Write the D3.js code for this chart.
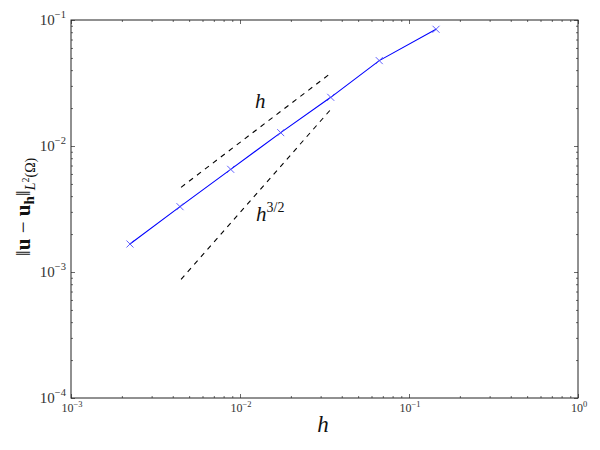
<!DOCTYPE html>
<html>
<head>
<meta charset="utf-8">
<script src="https://cdn.jsdelivr.net/npm/d3@7"></script>
<style>
  body { margin: 0; background: #fff; }
</style>
</head>
<body>
<svg id="chart" width="600" height="450"></svg>
<script>
// mesh sizes and L2 error of the computed solution
const hVals = [0.002233, 0.004416, 0.00881, 0.01742, 0.03443, 0.06668, 0.1445];
const errL2 = [0.001668, 0.00330, 0.00653, 0.01276, 0.02434, 0.0476, 0.0844];

// reference slopes
const refX = [0.00448, 0.03443];
const refLinY = [0.00470, 0.0378];
const refSupY = [0.000875, 0.0195];

// tick labels
const xMajor = [1e-3, 1e-2, 1e-1, 1];
const xMajorExp = ['\u22123', '\u22122', '\u22121', '0'];
const yMajor = [1e-4, 1e-3, 1e-2, 1e-1];
const yMajorExp = ['\u22124', '\u22123', '\u22122', '\u22121'];

const FONT = '"Liberation Serif", "DejaVu Serif", serif';

const svg = d3.select('#chart');
const margin = {top: 20, right: 22, bottom: 52, left: 71};
const width = 600, height = 450;
const innerW = width - margin.left - margin.right;
const innerH = height - margin.top - margin.bottom;

const x = d3.scaleLog().domain([1e-3, 1]).range([0, innerW]);
const y = d3.scaleLog().domain([1e-4, 1e-1]).range([innerH, 0]);

const g = svg.append('g').attr('transform', `translate(${margin.left},${margin.top})`);

// minor tick values (2..9 in every decade)
function minors(lo, hi) {
  const out = [];
  for (let e = lo; e < hi; e++) for (let m = 2; m < 10; m++) out.push(m * Math.pow(10, e));
  return out;
}
const xMinor = minors(-3, 0);
const yMinor = minors(-4, -1);

// ticks pointing inward on all four sides
const sides = [
  [() => d3.axisBottom(x), `translate(0,${innerH})`, xMajor, xMinor],
  [() => d3.axisTop(x), 'translate(0,0)', xMajor, xMinor],
  [() => d3.axisLeft(y), 'translate(0,0)', yMajor, yMinor],
  [() => d3.axisRight(y), `translate(${innerW},0)`, yMajor, yMinor]
];
sides.forEach(([mk, tr, maj, min]) => {
  [[min, 2], [maj, 4]].forEach(([vals, size]) => {
    g.append('g').attr('transform', tr)
      .call(mk().tickValues(vals).tickSizeInner(-size).tickSizeOuter(0).tickFormat(''))
      .call(s => s.select('.domain').remove());
  });
});
g.selectAll('.tick line').attr('stroke', '#444').attr('stroke-width', 0.8);

// frame
g.append('rect')
  .attr('width', innerW).attr('height', innerH)
  .attr('fill', 'none').attr('stroke', '#222').attr('stroke-width', 1);

// tick labels
const xl = g.append('g').selectAll('text').data(xMajor).join('text')
  .attr('x', d => x(d) + 1).attr('y', innerH + 14)
  .attr('text-anchor', 'middle')
  .style('font-family', FONT).style('font-size', '12px').attr('fill', '#333');
xl.append('tspan').text('10');
xl.append('tspan').attr('dy', -5).style('font-size', '8.5px').text((d, i) => xMajorExp[i]);

const yl = g.append('g').selectAll('text').data(yMajor).join('text')
  .attr('x', -5).attr('y', d => y(d) + 5)
  .attr('text-anchor', 'end')
  .style('font-family', FONT).style('font-size', '15px').attr('fill', '#333');
yl.append('tspan').text('10');
yl.append('tspan').attr('dy', -7).style('font-size', '10.5px').text((d, i) => yMajorExp[i]);

// reference lines
const line = d3.line().x(d => x(d[0])).y(d => y(d[1]));
[refLinY, refSupY].forEach(ys => {
  g.append('path')
    .attr('d', line(refX.map((v, i) => [v, ys[i]])))
    .attr('fill', 'none').attr('stroke', '#000').attr('stroke-width', 1.1)
    .attr('stroke-dasharray', '5,5');
});

// error curve
const pts = hVals.map((v, i) => [v, errL2[i]]);
g.append('path')
  .attr('d', line(pts))
  .attr('fill', 'none').attr('stroke', '#0000ff').attr('stroke-width', 1.1);
const s = 3.5;
g.append('g').selectAll('path').data(pts).join('path')
  .attr('d', d => {
    const px = x(d[0]), py = y(d[1]);
    return `M${px - s},${py - s}L${px + s},${py + s}M${px - s},${py + s}L${px + s},${py - s}`;
  })
  .attr('stroke', '#4d4dff').attr('stroke-width', 0.9).attr('fill', 'none');

// slope labels
g.append('text').attr('x', 184).attr('y', 88)
  .style('font-family', FONT).style('font-size', '21px').style('font-style', 'italic')
  .attr('fill', '#111').text('h');
const sl = g.append('text').attr('x', 185).attr('y', 201)
  .style('font-family', FONT).style('font-size', '21px').attr('fill', '#111');
sl.append('tspan').style('font-style', 'italic').text('h');
sl.append('tspan').attr('dy', -9).style('font-size', '14px').text('3/2');

// axis labels
svg.append('text').attr('x', 323).attr('y', 432)
  .attr('text-anchor', 'middle').attr('fill', '#111')
  .style('font-family', FONT).style('font-size', '23px').style('font-style', 'italic').text('h');

const yt = svg.append('text')
  .attr('transform', 'translate(30,207) rotate(-90)')
  .attr('text-anchor', 'middle').attr('fill', '#111')
  .style('font-family', FONT).style('font-size', '21px');
yt.append('tspan').text('\u2016');
yt.append('tspan').style('font-weight', 'bold').text('u');
yt.append('tspan').text(' \u2212 ');
yt.append('tspan').style('font-weight', 'bold').text('u');
yt.append('tspan').attr('dy', 4).style('font-size', '15px').style('font-weight', 'bold').text('h');
yt.append('tspan').attr('dy', -4).text('\u2016');
yt.append('tspan').attr('dy', 5).style('font-size', '14px').style('font-style', 'italic').text('L');
yt.append('tspan').attr('dy', -6).style('font-size', '10px').text('2');
yt.append('tspan').attr('dy', 6).style('font-size', '14px').text('(\u03a9)');
</script>
</body>
</html>
